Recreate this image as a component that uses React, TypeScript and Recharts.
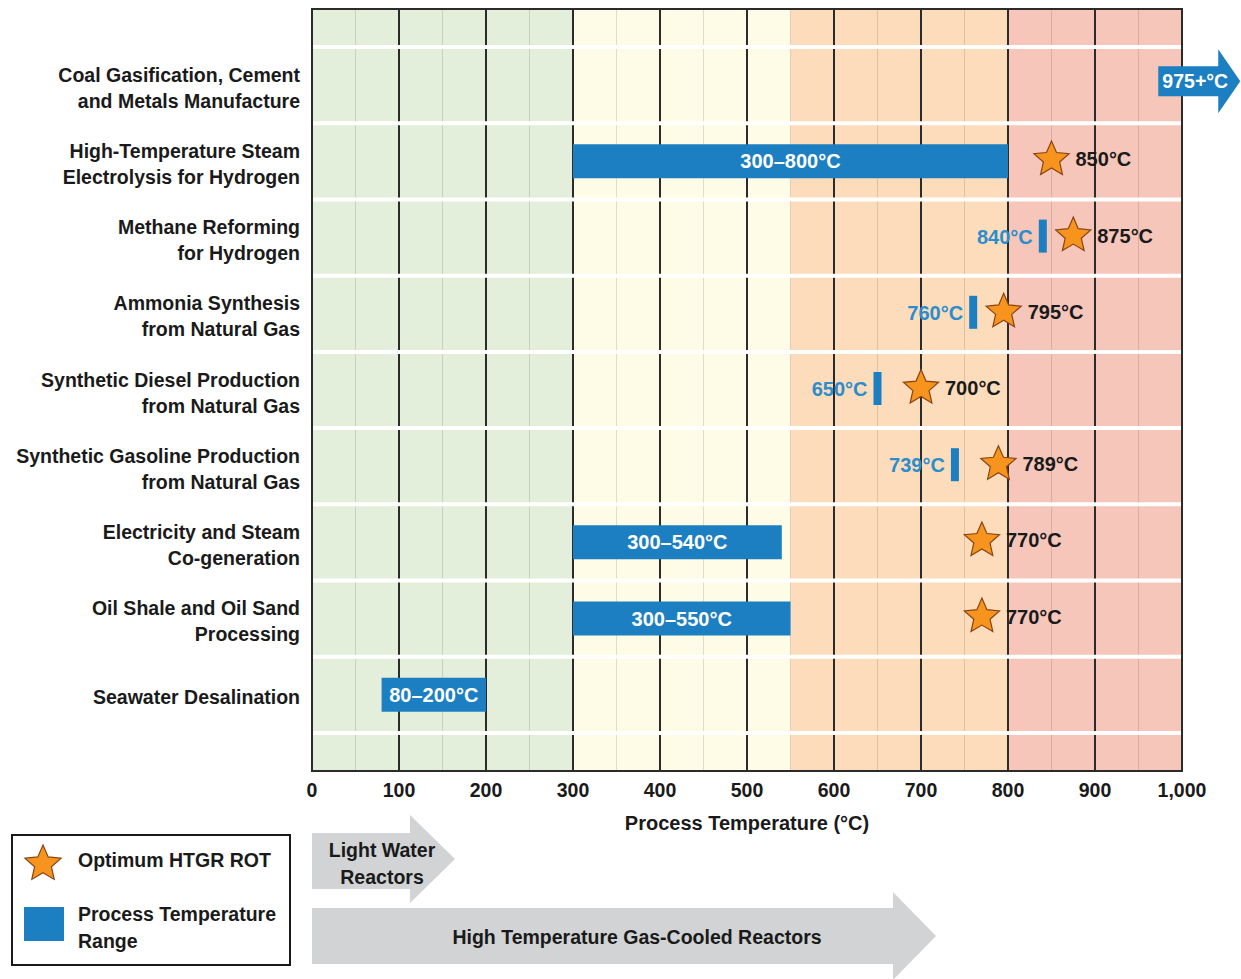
import React from "react";
import {
  Bar,
  ComposedChart,
  LabelList,
  ReferenceArea,
  ReferenceLine,
  Scatter,
  XAxis,
  YAxis,
} from "recharts";

const FONT = "'Liberation Sans', Arial, Helvetica, sans-serif";
const FS = 19.5;

const C = {
  blue: "#1b7fc1",
  blueText: "#2b8dcc",
  ink: "#1a1a1a",
  star: "#f7941d",
  starEdge: "#8a4414",
  dark: "#2b2b2b",
  light: "rgba(0,0,0,0.12)",
  gray: "#d1d3d4",
};

// rows, top to bottom (y positions on a 0..10 scale)
const ROW_POS = [9, 8, 7, 6, 5, 4, 3, 2, 1];
const ROW_LABELS = [
  ["Coal Gasification, Cement", "and Metals Manufacture"],
  ["High-Temperature Steam", "Electrolysis for Hydrogen"],
  ["Methane Reforming", "for Hydrogen"],
  ["Ammonia Synthesis", "from Natural Gas"],
  ["Synthetic Diesel Production", "from Natural Gas"],
  ["Synthetic Gasoline Production", "from Natural Gas"],
  ["Electricity and Steam", "Co-generation"],
  ["Oil Shale and Oil Sand", "Processing"],
  ["Seawater Desalination"],
];

const X_TICKS = [0, 100, 200, 300, 400, 500, 600, 700, 800, 900, 1000];
const HALF_TICKS = [50, 150, 250, 350, 450, 550, 650, 750, 850, 950];
const ROW_EDGES = [0.5, 1.5, 2.5, 3.5, 4.5, 5.5, 6.5, 7.5, 8.5, 9.5];

const BANDS = [
  { from: 0, to: 300, fill: "#e3eedb" },
  { from: 300, to: 550, fill: "#fefce6" },
  { from: 550, to: 800, fill: "#fddcbc" },
  { from: 800, to: 1000, fill: "#f6c6ba" },
];

// process temperature ranges
const RANGES = [
  { row: 8, range: [300, 800], label: "300–800°C" },
  { row: 3, range: [300, 540], label: "300–540°C" },
  { row: 2, range: [300, 550], label: "300–550°C" },
  { row: 1, range: [80, 200], label: "80–200°C" },
];

// single-point process temperatures
const PROCESS_POINTS = [
  { row: 7, t: 840 },
  { row: 6, t: 760 },
  { row: 5, t: 650 },
  { row: 4, t: 739 },
];

// optimum HTGR reactor outlet temperature
const OPTIMUM = [
  { row: 8, t: 850 },
  { row: 7, t: 875 },
  { row: 6, t: 795 },
  { row: 5, t: 700 },
  { row: 4, t: 789 },
  { row: 3, t: 770 },
  { row: 2, t: 770 },
];

const BEYOND = [{ row: 9, t: 975, label: "975+°C" }];

const W = 1241;
const H = 979;

function starPath(cx: number, cy: number, R: number, r: number) {
  const pts: string[] = [];
  for (let i = 0; i < 10; i++) {
    const rad = i % 2 === 0 ? R : r;
    const a = -Math.PI / 2 + (i * Math.PI) / 5;
    pts.push(`${(cx + rad * Math.cos(a)).toFixed(1)},${(cy + rad * Math.sin(a)).toFixed(1)}`);
  }
  return `M${pts.join("L")}Z`;
}

const RowTick = ({ y, payload }: any) => {
  const lines = ROW_LABELS[ROW_POS.indexOf(payload.value)] ?? [];
  const lh = 26;
  const first = y + 2.5 - ((lines.length - 1) * lh) / 2 + 7;
  return (
    <text x={300} y={first} textAnchor="end" fontFamily={FONT} fontWeight={700} fontSize={FS} fill={C.ink}>
      {lines.map((l, i) => (
        <tspan key={i} x={300} dy={i === 0 ? 0 : lh}>
          {l}
        </tspan>
      ))}
    </text>
  );
};

const StarMark = ({ cx, cy, payload }: any) => (
  <g>
    <path d={starPath(cx, cy - 2, 18.5, 8.5)} fill={C.star} stroke={C.starEdge} strokeWidth={1.2} />
    <text x={cx + 24} y={cy + 5} fontFamily={FONT} fontWeight={700} fontSize={20} fill={C.ink}>
      {payload.t}°C
    </text>
  </g>
);

const ProcessMark = ({ cx, cy, payload }: any) => (
  <g>
    <rect x={cx - 4} y={cy - 18} width={8} height={33} fill={C.blue} />
    <text x={cx - 10} y={cy + 6} textAnchor="end" fontFamily={FONT} fontWeight={700} fontSize={20} fill={C.blueText}>
      {payload.t}°C
    </text>
  </g>
);

const BeyondArrow = ({ cx, cy, payload }: any) => {
  const y = cy - 4;
  const x0 = cx - 2;
  return (
    <g>
      <path
        d={`M${x0},${y - 15} L${x0 + 60},${y - 15} L${x0 + 60},${y - 32} L${x0 + 82},${y} L${x0 + 60},${y + 32} L${x0 + 60},${y + 15} L${x0},${y + 15} Z`}
        fill={C.blue}
      />
      <text x={x0 + 37} y={y + 7} textAnchor="middle" fontFamily={FONT} fontWeight={700} fontSize={FS} fill="#fff">
        {payload.label}
      </text>
    </g>
  );
};

function Extras() {
  const t = { fontFamily: FONT, fontWeight: 700, fontSize: FS, fill: C.ink };
  return (
    <svg width={W} height={H} style={{ position: "absolute", left: 0, top: 0, pointerEvents: "none" }}>
      {/* legend */}
      <rect x={12} y={835} width={278} height={130} fill="#fff" stroke={C.ink} strokeWidth={2} />
      <path d={starPath(43, 864, 19, 8.8)} fill={C.star} stroke={C.starEdge} strokeWidth={1.2} />
      <text x={78} y={867} {...t}>Optimum HTGR ROT</text>
      <rect x={24} y={907} width={40} height={34} fill={C.blue} />
      <text x={78} y={921} {...t}>Process Temperature</text>
      <text x={78} y={948} {...t}>Range</text>
      {/* reactor arrows */}
      <path d="M312,833 L410,833 L410,815 L455,859 L410,903 L410,889 L312,889 Z" fill={C.gray} />
      <text x={382} y={857} textAnchor="middle" {...t}>Light Water</text>
      <text x={382} y={884} textAnchor="middle" {...t}>Reactors</text>
      <path d="M312,908 L893,908 L893,892 L936,936 L893,980 L893,964 L312,964 Z" fill={C.gray} />
      <text x={637} y={944} textAnchor="middle" {...t}>High Temperature Gas-Cooled Reactors</text>
    </svg>
  );
}

export default function App() {
  return (
    <div style={{ position: "absolute", left: 0, top: 0, width: W, height: H, background: "#fff" }}>
      <ComposedChart
        width={W}
        height={H}
        layout="vertical"
        data={RANGES}
        margin={{ top: 9, right: 59, bottom: 148, left: 0 }}
      >
        <XAxis
          type="number"
          domain={[0, 1000]}
          ticks={X_TICKS}
          interval={0}
          height={60}
          axisLine={false}
          tickLine={false}
          tickMargin={6}
          tickFormatter={(v: number) => v.toLocaleString("en-US")}
          tick={{ fontFamily: FONT, fontWeight: 700, fontSize: FS, fill: C.ink }}
          label={{
            value: "Process Temperature (°C)",
            position: "insideBottom",
            offset: 1,
            style: { fontFamily: FONT, fontWeight: 700, fontSize: 20, fill: C.ink },
          }}
        />
        <YAxis
          type="number"
          dataKey="row"
          domain={[0, 10]}
          ticks={ROW_POS}
          interval={0}
          reversed
          width={312}
          axisLine={false}
          tickLine={false}
          tick={<RowTick />}
        />
        {BANDS.map((b) => (
          <ReferenceArea key={b.from} x1={b.from} x2={b.to} y1={0} y2={10} fill={b.fill} fillOpacity={1} stroke="none" zIndex={-300} />
        ))}
        {HALF_TICKS.map((x) => (
          <ReferenceLine key={`h${x}`} x={x} stroke={C.light} strokeWidth={1} zIndex={-250} />
        ))}
        {X_TICKS.slice(1, -1).map((x) => (
          <ReferenceLine key={`d${x}`} x={x} stroke={C.dark} strokeWidth={2} zIndex={-200} />
        ))}
        {ROW_EDGES.map((y) => (
          <ReferenceLine key={`r${y}`} y={y} stroke="#fff" strokeWidth={4} zIndex={-150} />
        ))}
        <ReferenceArea x1={0} x2={1000} y1={0} y2={10} fill="none" stroke={C.dark} strokeWidth={2} zIndex={-100} />
        <Bar dataKey="range" barSize={34} fill={C.blue} isAnimationActive={false}>
          <LabelList
            dataKey="label"
            position="center"
            fill="#fff"
            style={{ fontFamily: FONT, fontWeight: 700, fontSize: 20 }}
          />
        </Bar>
        <Scatter data={PROCESS_POINTS} dataKey="t" shape={ProcessMark} isAnimationActive={false} />
        <Scatter data={OPTIMUM} dataKey="t" shape={StarMark} isAnimationActive={false} />
        <Scatter data={BEYOND} dataKey="t" shape={BeyondArrow} isAnimationActive={false} />
      </ComposedChart>
      <Extras />
    </div>
  );
}
